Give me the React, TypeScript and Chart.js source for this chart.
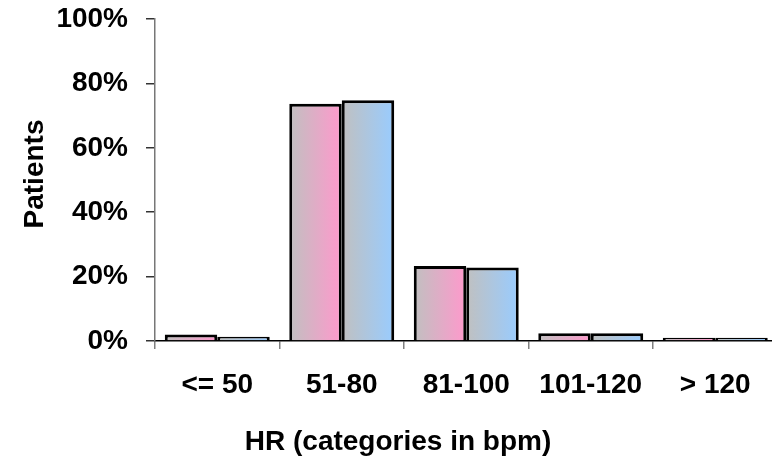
import React, { useEffect, useRef } from "react";
import { Chart, registerables } from "chart.js";

Chart.register(...registerables);

const categories = ["<= 50", "51-80", "81-100", "101-120", "> 120"];
const seriesPink = [2.0, 73.7, 23.3, 2.4, 1.0];
const seriesBlue = [1.3, 74.8, 22.8, 2.4, 1.0];
const yTickValues = [0, 20, 40, 60, 80, 100];
const yTitle = "Patients";
const xTitle = "HR (categories in bpm)";

const FONT = 'Arial, "Liberation Sans", Helvetica, sans-serif';
const CAT_PCT = 0.843;

function makeGradient(endColor: string, datasetSide: number) {
  return (ctx: any) => {
    const chart = ctx.chart;
    const xs = chart.scales && chart.scales.x;
    if (!xs || ctx.dataIndex === undefined || !chart.chartArea) return endColor;
    const center = xs.getPixelForValue(ctx.dataIndex);
    const catW = (xs.right - xs.left) / categories.length;
    const half = (catW * CAT_PCT) / 2;
    const x0 = datasetSide === 0 ? center - half : center;
    const x1 = datasetSide === 0 ? center : center + half;
    const g = chart.ctx.createLinearGradient(x0, 0, x1, 0);
    g.addColorStop(0, "#c0c0c0");
    g.addColorStop(1, endColor);
    return g;
  };
}

const titlePlugin = {
  id: "axisTitles",
  afterDraw(chart: any) {
    const c = chart.ctx;
    c.save();
    c.fillStyle = "#000";
    c.font = `bold 28px ${FONT}`;
    c.textAlign = "center";
    c.textBaseline = "alphabetic";
    c.fillText(xTitle, 398, 450);
    c.translate(43, 174);
    c.rotate(-Math.PI / 2);
    c.fillText(yTitle, 0, 0);
    c.restore();
  },
};

export default function App() {
  const ref = useRef<HTMLCanvasElement | null>(null);

  useEffect(() => {
    document.body.style.margin = "0";
    const canvas = ref.current;
    if (!canvas) return;
    const chart = new Chart(canvas, {
      type: "bar",
      data: {
        labels: categories,
        datasets: [
          {
            label: "A",
            data: seriesPink,
            backgroundColor: makeGradient("#ff99cc", 0),
            borderColor: "#000",
            borderWidth: 3,
            categoryPercentage: CAT_PCT,
            barPercentage: 1,
          },
          {
            label: "B",
            data: seriesBlue,
            backgroundColor: makeGradient("#99ccff", 1),
            borderColor: "#000",
            borderWidth: 3,
            categoryPercentage: CAT_PCT,
            barPercentage: 1,
          },
        ],
      },
      options: {
        responsive: false,
        animation: false,
        devicePixelRatio: 1,
        layout: { padding: { left: 0, top: 19, right: 4.5, bottom: 0 } },
        plugins: {
          legend: { display: false },
          tooltip: { enabled: false },
        },
        scales: {
          x: {
            type: "category",
            offset: true,
            grid: {
              display: true,
              offset: true,
              drawOnChartArea: false,
              drawTicks: true,
              tickLength: 8,
              color: "#808080",
              lineWidth: 1.5,
            },
            border: { display: true, color: "#000", width: 1.5 },
            ticks: {
              color: "#000",
              font: { family: FONT, size: 28, weight: "bold" },
              padding: 19,
              maxRotation: 0,
              autoSkip: false,
            },
            afterFit(scale: any) {
              scale.height = 462 - 341;
              scale.paddingLeft = 0;
              scale.paddingRight = 0;
            },
          },
          y: {
            min: 0,
            max: 100,
            afterBuildTicks(scale: any) {
              scale.ticks = yTickValues.map((v) => ({ value: v }));
            },
            grid: {
              display: true,
              drawOnChartArea: false,
              drawTicks: true,
              tickLength: 9,
              color: "#333",
              lineWidth: 1.5,
            },
            border: { display: true, color: "#777", width: 1.5 },
            ticks: {
              color: "#000",
              font: { family: FONT, size: 28, weight: "bold" },
              padding: 18,
              callback: (v: any) => `${v}%`,
            },
            afterFit(scale: any) {
              scale.width = 155;
              scale.paddingTop = 0;
              scale.paddingBottom = 0;
            },
          },
        },
      },
      plugins: [titlePlugin],
    });
    return () => chart.destroy();
  }, []);

  return (
    <div style={{ width: 772, height: 462, overflow: "hidden", background: "#fff" }}>
      <canvas ref={ref} width={782} height={462} style={{ display: "block", width: 782, height: 462 }} />
    </div>
  );
}
